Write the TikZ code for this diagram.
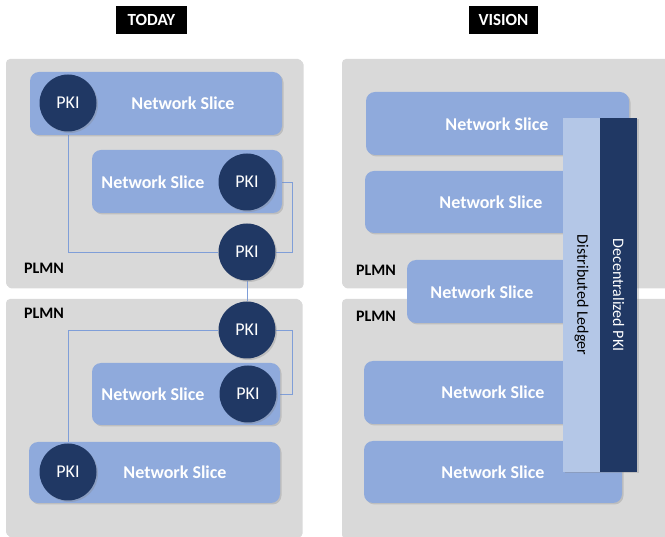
\documentclass[tikz,border=0pt]{standalone}
\usepackage{fontspec}
\setmainfont{Carlito}
\usetikzlibrary{shadows, backgrounds}

\definecolor{plmngray}{HTML}{D9D9D9}
\definecolor{sliceblue}{HTML}{8FAADC}
\definecolor{pkinavy}{HTML}{203864}
\definecolor{ledgerblue}{HTML}{B4C7E7}
\definecolor{linkblue}{HTML}{7F9ED8}

\pgfdeclarelayer{links}
\pgfsetlayers{background,links,main}

\newcommand{\fsz}[1]{\fontsize{#1}{#1}\selectfont}

\begin{document}
\begin{tikzpicture}[x=1pt, y=-1pt,
  shade/.style={drop shadow={shadow xshift=1.5pt, shadow yshift=-1.5pt, opacity=.3}},
  plmn/.style={fill=plmngray, rounded corners=4pt, inner sep=0, shade},
  slice/.style={fill=sliceblue, rounded corners=9pt, inner sep=0, shade},
  pki/.style={circle, fill=pkinavy, text=white, minimum size=57pt, inner sep=0, font=\fsz{18}, shade},
  slicetext/.style={text=white, inner sep=0, font=\bfseries\fsz{18}},
  plmntext/.style={anchor=west, inner sep=0, font=\bfseries\fsz{16}},
  title/.style={fill=black, text=white, inner sep=0, minimum height=28pt, font=\bfseries\fsz{17}},
  bar/.style={rotate=-90, inner sep=0, minimum width=354pt, minimum height=37pt, font=\fsz{16}, shade},
  link/.style={linkblue, line width=.8pt}]

\useasboundingbox (0,0) rectangle (665,537);

% titles
\node[title, minimum width=71pt] (today) at (151.5,20) {TODAY};
\node[title, minimum width=69pt] (vision) at (503.5,20) {VISION};

% plmn boxes
\begin{pgfonlayer}{background}
\node[plmn, minimum width=296pt, minimum height=228pt] (plmnTL) at (154,173) {};
\node[plmn, minimum width=295pt, minimum height=237pt] (plmnBL) at (153.5,417.5) {};
\node[plmn, minimum width=330pt, minimum height=228pt] (plmnTR) at (507,173) {};
\node[plmn, minimum width=330pt, minimum height=240pt] (plmnBR) at (507,419) {};
\end{pgfonlayer}

\node[plmntext] (lblTL) at (24,268) {PLMN};
\node[plmntext] (lblBL) at (24,313) {PLMN};
\node[plmntext] (lblTR) at (356,270) {PLMN};
\node[plmntext] (lblBR) at (356,316) {PLMN};

%%% today
\node[slice, minimum width=252pt, minimum height=63pt] (sliceL1) at (156,103.5) {};
\node[slicetext] (txtL1) at (183,103) {Network Slice};
\node[pki] (pkiA) at (68,103) {PKI};

\node[slice, minimum width=190pt, minimum height=63pt] (sliceL2) at (187,181.5) {};
\node[slicetext] (txtL2) at (153,182) {Network Slice};
\node[pki] (pkiB) at (247,182) {PKI};

\node[pki] (pkiC) at (247,252) {PKI};
\node[pki] (pkiD) at (247,330) {PKI};

\node[slice, minimum width=188pt, minimum height=62pt] (sliceL3) at (186,394) {};
\node[slicetext] (txtL3) at (153,394) {Network Slice};
\node[pki] (pkiE) at (248,394) {PKI};

\node[slice, minimum width=251pt, minimum height=61pt] (sliceL4) at (154.5,472.5) {};
\node[slicetext] (txtL4) at (175,472) {Network Slice};
\node[pki] (pkiF) at (68,472) {PKI};

\begin{pgfonlayer}{links}
\draw[link] (pkiA) |- (pkiC); %left loop top
\draw[link] (pkiB.east) -- ++(17,0) |- (pkiC.east);
\draw[link] (pkiC) -- (pkiD);
\draw[link] (pkiD) -| (pkiF); %left loop bottom
\draw[link] (pkiD.east) -- ++(17,0) |- (pkiE.east);
\end{pgfonlayer}

%%% vision
\node[slice, minimum width=263pt, minimum height=63pt] (sliceR1) at (497.5,123.5) {};
\node[slicetext] (txtR1) at (497,124) {Network Slice};
\node[slice, minimum width=264pt, minimum height=62pt] (sliceR2) at (497,202) {};
\node[slicetext] (txtR2) at (491,202) {Network Slice};
\node[slice, minimum width=222pt, minimum height=63pt] (sliceR3) at (518,291.5) {};
\node[slicetext] (txtR3) at (482,292) {Network Slice};
\node[slice, minimum width=265pt, minimum height=63pt] (sliceR4) at (496.5,392.5) {};
\node[slicetext] (txtR4) at (493,392) {Network Slice};
\node[slice, minimum width=258pt, minimum height=62pt] (sliceR5) at (493,472) {};
\node[slicetext] (txtR5) at (493,472) {Network Slice};

\node[bar, fill=ledgerblue] (ledger) at (581.5,295) {Distributed Ledger};
\node[bar, fill=pkinavy, text=white] (dpki) at (618.5,295) {Decentralized PKI};

\end{tikzpicture}
\end{document}
